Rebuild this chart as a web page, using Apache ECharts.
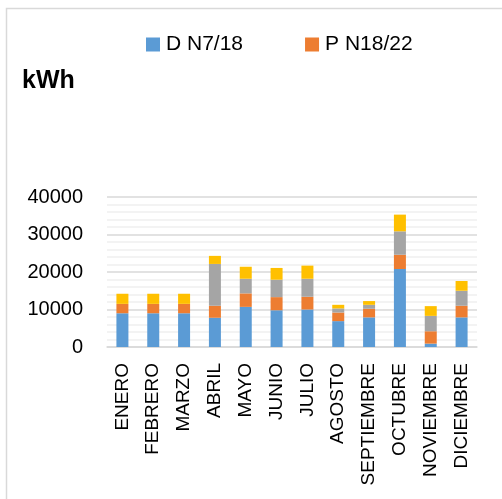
<!DOCTYPE html>
<html>
<head>
<meta charset="utf-8">
<script src="https://cdn.jsdelivr.net/npm/echarts@6/dist/echarts.min.js"></script>
<style>
  html, body { margin: 0; padding: 0; background: #fff; }
  #main { width: 502px; height: 499px; }
</style>
</head>
<body>
<div id="main"></div>
<script>
// monthly consumption, kWh
const months = ["ENERO", "FEBRERO", "MARZO", "ABRIL", "MAYO", "JUNIO", "JULIO",
  "AGOSTO", "SEPTIEMBRE", "OCTUBRE", "NOVIEMBRE", "DICIEMBRE"];
const dN718 = [9000, 9000, 9000, 7800, 10700, 9800, 10000, 6900, 7900, 20800, 900, 7900];
const pN1822 = [2500, 2500, 2500, 3200, 3600, 3500, 3400, 2300, 2300, 3800, 3300, 3100];
const serie3 = [0, 0, 0, 11150, 3900, 4650, 4800, 1080, 1050, 6250, 4100, 4000];
const serie4 = [2700, 2700, 2700, 2150, 3200, 3130, 3500, 970, 1000, 4450, 2600, 2600];
const yTicks = [0, 10000, 20000, 30000, 40000];

const font = "Liberation Sans";
var myChart = echarts.init(document.getElementById("main"));

function barSeries(name, data, color) {
  return {
    name: name,
    type: "bar",
    stack: "total",
    data: data,
    barWidth: 12,
    itemStyle: { color: color },
    emphasis: { disabled: true }
  };
}

myChart.setOption({
  animation: false,
  graphic: [
    {
      type: "rect",
      shape: { x: 6.5, y: 8.5, width: 600, height: 600 },
      style: { fill: "none", stroke: "#d9d9d9", lineWidth: 1.5 },
      z: -1
    },
    {
      type: "text",
      left: 22,
      top: 69,
      style: { text: "kWh", font: "bold 25px " + font, fill: "#000" }
    }
  ],
  legend: {
    data: ["D N7/18", "P N18/22"],
    left: 141,
    top: 29,
    itemWidth: 14,
    itemHeight: 14,
    itemGap: 62,
    icon: "rect",
    textStyle: { fontFamily: font, fontSize: 21, color: "#000", padding: [0, 0, 0, 1] }
  },
  grid: { left: 107, right: 25, top: 197, height: 150 },
  xAxis: {
    type: "category",
    data: months,
    axisLine: { lineStyle: { color: "#d9d9d9", width: 1.5 } },
    axisTick: { show: false },
    axisLabel: {
      interval: 0,
      rotate: 90,
      margin: 16,
      fontFamily: font,
      fontSize: 19,
      color: "#000"
    }
  },
  yAxis: {
    type: "value",
    min: yTicks[0],
    max: yTicks[yTicks.length - 1],
    interval: 10000,
    axisLine: { show: false },
    axisTick: { show: false },
    axisLabel: {
      margin: 24,
      fontFamily: font,
      fontSize: 20,
      color: "#000",
      formatter: function (v) { return String(v); }
    },
    splitLine: { lineStyle: { color: "#d9d9d9", width: 1.5 } },
    minorTick: { show: false, splitNumber: 5 },
    minorSplitLine: { show: true, lineStyle: { color: "#f0f0f0", width: 1.5 } }
  },
  series: [
    barSeries("D N7/18", dN718, "#5b9bd5"),
    barSeries("P N18/22", pN1822, "#ed7d31"),
    barSeries("Serie 3", serie3, "#a5a5a5"),
    barSeries("Serie 4", serie4, "#ffc000")
  ]
});
</script>
</body>
</html>
